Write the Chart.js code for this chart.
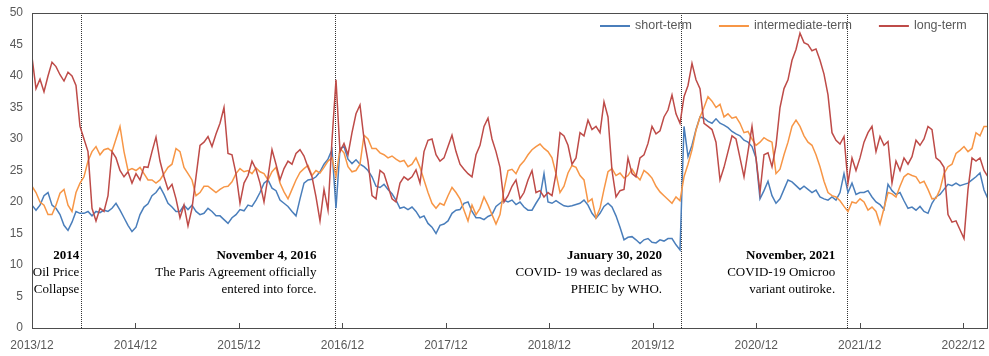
<!DOCTYPE html>
<html>
<head>
<meta charset="utf-8">
<script src="https://cdn.jsdelivr.net/npm/chart.js@4.4.1/dist/chart.umd.min.js"></script>
<style>
  html, body { margin: 0; padding: 0; background: #ffffff; }
  #wrap { width: 989px; height: 356px; }
</style>
</head>
<body>
<div id="wrap"><canvas id="chart" width="989" height="356"></canvas></div>
<script>
// x axis: years counted from 2013/12, one label per year
const YEAR_LABELS = ['2013/12', '2014/12', '2015/12', '2016/12', '2017/12',
                     '2018/12', '2019/12', '2020/12', '2021/12', '2022/12'];

// roughly fortnightly samples, expressed in years
const STEP = 14.12 / 365.25;

const SHORT_TERM = [
  19.5, 18.7, 19.5, 21, 21.5, 19.5, 19, 18, 16.3, 15.5,
  16.8, 18.5, 18.2, 18.2, 18.5, 17.8, 18.5, 18.3, 18.7, 18.5,
  19, 19.8, 18.7, 17.5, 16.3, 15.3, 16, 18, 19.2, 19.7,
  21, 21.5, 22.4, 21.2, 19.8, 19.2, 18.5, 18.5, 19.5, 18.8,
  19.5, 18.5, 18, 18.2, 19, 18.5, 17.8, 17.8, 17.2, 16.6,
  17.5, 18, 18.8, 18.6, 19.5, 19.3, 20.3, 21.5, 23, 23.5,
  22.2, 21.8, 20.3, 19.8, 19.3, 18.5, 17.8, 20.5, 23, 23.5,
  23.6, 24, 24.8, 26, 26.8, 28.3, 19, 28.5, 28.8, 26.8,
  26.1, 26.7, 26, 25.6, 25, 24, 22.5, 22.3, 22.8, 22,
  21.3, 20.3, 19, 19.2, 18.8, 19.2, 18.5, 17.5, 17.8, 16.6,
  16, 15, 16.3, 16.5, 17, 18.2, 18.7, 18.8, 19.8, 20,
  18.5, 17.5, 17.5, 17.2, 17.7, 18, 19.3, 19.8, 20.3, 20,
  20.3, 19.6, 20, 19.2, 18.7, 18.7, 19.8, 20.8, 24.5, 20,
  19.8, 20.2, 19.8, 19.4, 19.3, 19.4, 19.6, 19.8, 20.3, 19.5,
  18.2, 17.4, 18.2, 19.3, 19.8, 19.2, 17.8, 16, 14, 14.4,
  14.5, 14, 13.4, 14, 14.2, 13.6, 13.5, 14, 13.8, 14.2,
  14.2, 13.2, 12.4, 32, 27.2, 29, 31.5, 33.5, 33.3, 32.8,
  32.5, 33.2, 32.5, 32.2, 31.8, 31.2, 30.8, 30.5, 29.8, 29.5,
  28.8, 27, 20.5, 21.8, 23.3, 21, 19.8, 20.5, 22, 23.5,
  23.2, 22.6, 22, 22.5, 22, 21.5, 21.9, 20.8, 20.5, 20.3,
  20.8, 20.3, 21.5, 24.5, 21.5, 23, 21.2, 21.5, 21.5, 21.8,
  20.8, 20, 19.6, 18.8, 22.8, 21.8, 21.2, 21.5, 20.2, 19,
  19.2, 18.7, 19.3, 18.5, 18.2, 19.8, 20.8, 21.2, 22, 22.8,
  22.6, 23, 22.6, 22.8, 23, 23.5, 24, 24.6, 21.9, 20.5
];

const INTERMEDIATE_TERM = [
  22.5, 21.5, 20, 19.5, 18, 18, 19.5, 21.4, 22, 19.5,
  18.5, 21.5, 23, 24, 26.5, 28, 28.8, 27.5, 28.3, 28.5,
  28, 30, 32, 28, 25, 25.3, 25, 25.5, 24.5, 23.5,
  23.5, 23, 23.5, 24.5, 25.5, 26, 28.5, 28, 25.5, 24.5,
  23.5, 21, 21.5, 22.5, 22.5, 22, 21.5, 22, 22.4, 22.5,
  23.2, 24.5, 25.3, 24.8, 25, 24.5, 25.4, 24.8, 24.5, 23.5,
  24.8, 25.5, 23, 21.6, 20.5, 22, 23.5, 24.7, 25.3, 25.8,
  24.2, 25, 24.6, 25.5, 26.5, 27, 24, 28.5, 27.8, 25.6,
  24.8, 25, 26, 30.6, 30, 28.5, 28.5, 27.8, 27.5, 27,
  27.3, 26.8, 26.4, 26.6, 25.6, 26, 27, 25.5, 23.5, 21.5,
  19.8, 19, 19.8, 19.5, 21, 22.3, 21.5, 20.5, 18.7, 17,
  19.5, 18, 19, 20.8, 19.5, 18, 16.5, 18, 22, 25,
  25.2, 24.5, 25.8, 26.5, 27.5, 28.3, 28.8, 29.2, 28.5, 28,
  27, 24.5, 21.5, 22.5, 24.6, 25.8, 25.5, 24.2, 23.5, 20,
  20.5, 17.5, 19, 22, 24.8, 25.3, 24.2, 24.6, 23.8, 24.2,
  25.2, 24.2, 23.5, 25, 24.5, 23.8, 22.5, 21.6, 21, 20.4,
  19.8, 20.8, 20.2, 24, 26, 28.3, 31.4, 33.5, 35, 36.7,
  36, 35, 35.5, 33.5, 34, 33.3, 33.5, 32.5, 31, 31.2,
  30, 29, 29.5, 30.2, 29.8, 29.5, 24.5, 25.2, 27.5, 29.5,
  32, 33, 32, 30.5, 29.5, 29, 27.5, 25.6, 23.3, 21.5,
  21, 20.8, 20.2, 19.3, 18.5, 20, 19.8, 20.5, 20, 18.7,
  19.2, 18.5, 16.5, 19, 21.5, 21.3, 20.8, 22.5, 24, 24.5,
  24.2, 24, 23, 23.3, 22, 20.5, 20.6, 22, 24.5, 25.6,
  26, 27.7, 28.2, 28.8, 28, 28.5, 31, 30.5, 32, 32
];

const LONG_TERM = [
  43, 38, 39.5, 37.5, 40, 42.2, 41.5, 40.2, 39.2, 40.6,
  40, 38.5, 32, 30, 28, 19, 17, 19, 18.5, 21,
  28, 27, 25, 24, 24.8, 23, 24.5, 23.5, 25.6, 25.5,
  28, 30.3, 26.5, 24, 22, 22.8, 20.5, 17.5, 19.5, 16.2,
  19, 24, 29, 29.5, 30.4, 28.8, 30.8, 32.5, 35, 27.7,
  27.5, 24.5, 19.8, 23, 24.2, 26.5, 25.2, 23, 20, 24,
  28.3, 26, 23.5, 25.3, 26.5, 26, 27.7, 28.3, 27.3, 25.5,
  24, 20.8, 17, 22, 18.7, 29.8, 39.4, 28, 29.3, 27.5,
  31, 34, 35.4, 30, 26.5, 21, 20.5, 25, 24.5, 22.5,
  20.5, 20, 23, 24, 23.5, 24, 25.1, 23, 28, 29.8,
  30, 27.5, 26.5, 27, 28.8, 30.6, 28, 26, 25.2, 24.5,
  24, 27.5, 29, 32, 33.3, 30, 28, 25.5, 20, 21,
  22.5, 23.5, 20.5, 21.5, 23.5, 25, 21.5, 21.8, 20.8, 21.5,
  21, 24.5, 31, 30.5, 29, 26, 27, 31, 30.5, 33,
  31.5, 32, 31, 35.9, 33.5, 25, 20.8, 21.8, 22, 27,
  24.5, 24, 27, 27.5, 29.3, 32, 30.8, 31.3, 33.5, 34.6,
  37, 34, 32.5, 36.7, 38.5, 42, 39.4, 38, 32.5, 32,
  31.5, 29.5, 23.5, 25.5, 28, 30.5, 30, 27, 24, 28,
  32, 27, 21.5, 27.5, 27.8, 25.6, 29, 35, 38, 39.4,
  42.5, 44.2, 46.8, 45.3, 45, 44, 44.3, 42.5, 40.3, 37,
  31, 29.8, 29.2, 30.4, 23, 27, 25, 27, 29.5, 31,
  32, 28, 30.4, 29, 29.6, 23, 26.5, 25, 27, 26,
  27.2, 29.8, 29, 30, 32, 31.5, 27, 26.5, 25.5, 18,
  16.8, 17, 15.6, 14.2, 22, 27, 26.5, 27, 25, 24
];

// events marked with dotted vertical lines (position in years from 2013/12)
const EVENT_AT = [0.477, 2.928, 6.268, 7.878];
const EVENT_TITLES = ['2014', 'November 4, 2016', 'January 30, 2020', 'November, 2021'];
const EVENT_NOTES = [
  ['Oil Price', 'Collapse'],
  ['The Paris Agreement officially', 'entered into force.'],
  ['COVID- 19 was declared as', 'PHEIC by WHO.'],
  ['COVID-19 Omicroo', 'variant outiroke.']
];

const toPoints = arr => arr.map((v, i) => ({ x: i * STEP, y: v }));

const AXIS_FONT = "'Liberation Sans', Arial, sans-serif";
const NOTE_FONT = "'Liberation Serif', 'Times New Roman', serif";
const AXIS_GREY = '#595959';
const FRAME = '#4d4d4d';

// gap between a note's right edge and its event line, in px
const NOTE_GAP = [2, 18.5, 18.5, 12];

const decorations = {
  id: 'decorations',
  beforeDatasetsDraw(chart) {
    const { ctx, chartArea: a, scales: { x } } = chart;
    ctx.save();
    ctx.strokeStyle = '#333333';
    ctx.lineWidth = 1;
    ctx.setLineDash([1, 1]);
    EVENT_AT.forEach(t => {
      const px = Math.round(x.getPixelForValue(t)) + 0.5;
      ctx.beginPath();
      ctx.moveTo(px, a.top);
      ctx.lineTo(px, a.bottom);
      ctx.stroke();
    });
    ctx.restore();
  },
  afterDatasetsDraw(chart) {
    const { ctx, chartArea: a, scales: { x } } = chart;
    ctx.save();

    // frame around the plot
    ctx.strokeStyle = FRAME;
    ctx.lineWidth = 1;
    ctx.strokeRect(Math.round(a.left) + 0.5, Math.round(a.top) + 0.5,
                   Math.round(a.right - a.left) - 1, Math.round(a.bottom - a.top));

    // inward tick marks on the x axis
    YEAR_LABELS.forEach((_, i) => {
      const px = Math.round(x.getPixelForValue(i)) + 0.5;
      ctx.beginPath();
      ctx.moveTo(px, a.bottom);
      ctx.lineTo(px, a.bottom - 5);
      ctx.stroke();
    });

    // event notes, right-aligned next to each dotted line
    ctx.fillStyle = '#000000';
    ctx.textAlign = 'right';
    ctx.textBaseline = 'middle';
    EVENT_AT.forEach((t, k) => {
      const right = x.getPixelForValue(t) - NOTE_GAP[k];
      ctx.font = 'bold 13px ' + NOTE_FONT;
      ctx.fillText(EVENT_TITLES[k], right, 256);
      ctx.font = '13px ' + NOTE_FONT;
      EVENT_NOTES[k].forEach((line, j) => ctx.fillText(line, right, 273 + j * 17));
    });

    // legend inside the plot, top right
    ctx.font = '12.5px ' + AXIS_FONT;
    ctx.textAlign = 'left';
    ctx.textBaseline = 'middle';
    let lx = 600;
    const ly = 26;
    chart.data.datasets.forEach(ds => {
      ctx.strokeStyle = ds.borderColor;
      ctx.lineWidth = 2;
      ctx.setLineDash([]);
      ctx.beginPath();
      ctx.moveTo(lx, ly);
      ctx.lineTo(lx + 30, ly);
      ctx.stroke();
      ctx.fillStyle = AXIS_GREY;
      ctx.fillText(ds.label, lx + 35, ly);
      lx += 35 + ctx.measureText(ds.label).width + 27;
    });
    ctx.restore();
  }
};

new Chart(document.getElementById('chart'), {
  type: 'line',
  data: {
    datasets: [
      { label: 'short-term', data: toPoints(SHORT_TERM), borderColor: '#4a7ebb', order: 2 },
      { label: 'intermediate-term', data: toPoints(INTERMEDIATE_TERM), borderColor: '#f79646', order: 1 },
      { label: 'long-term', data: toPoints(LONG_TERM), borderColor: '#be4b48', order: 0 }
    ]
  },
  options: {
    responsive: false,
    animation: false,
    elements: {
      point: { radius: 0 },
      line: { borderWidth: 1.5, tension: 0, fill: false }
    },
    layout: { padding: { top: 13, right: 1, left: 0, bottom: 0 } },
    plugins: { legend: { display: false }, tooltip: { enabled: false } },
    scales: {
      x: {
        type: 'linear',
        min: 0,
        max: (SHORT_TERM.length - 1) * STEP,
        grid: { display: false, drawTicks: false },
        border: { display: false },
        afterBuildTicks: s => { s.ticks = YEAR_LABELS.map((_, i) => ({ value: i })); },
        ticks: {
          callback: v => YEAR_LABELS[v] ?? '',
          autoSkip: false,
          maxRotation: 0,
          padding: 10,
          color: AXIS_GREY,
          font: { family: AXIS_FONT, size: 12 }
        },
        afterFit: s => { s.height = 28; s.paddingLeft = 0; s.paddingRight = 0; }
      },
      y: {
        min: 0,
        max: 50,
        grid: { display: false, drawTicks: false },
        border: { display: false },
        ticks: {
          stepSize: 5,
          padding: 9,
          color: AXIS_GREY,
          font: { family: AXIS_FONT, size: 12 }
        },
        afterFit: s => { s.width = 32; s.paddingTop = 0; s.paddingBottom = 0; }
      }
    }
  },
  plugins: [decorations]
});
</script>
</body>
</html>
